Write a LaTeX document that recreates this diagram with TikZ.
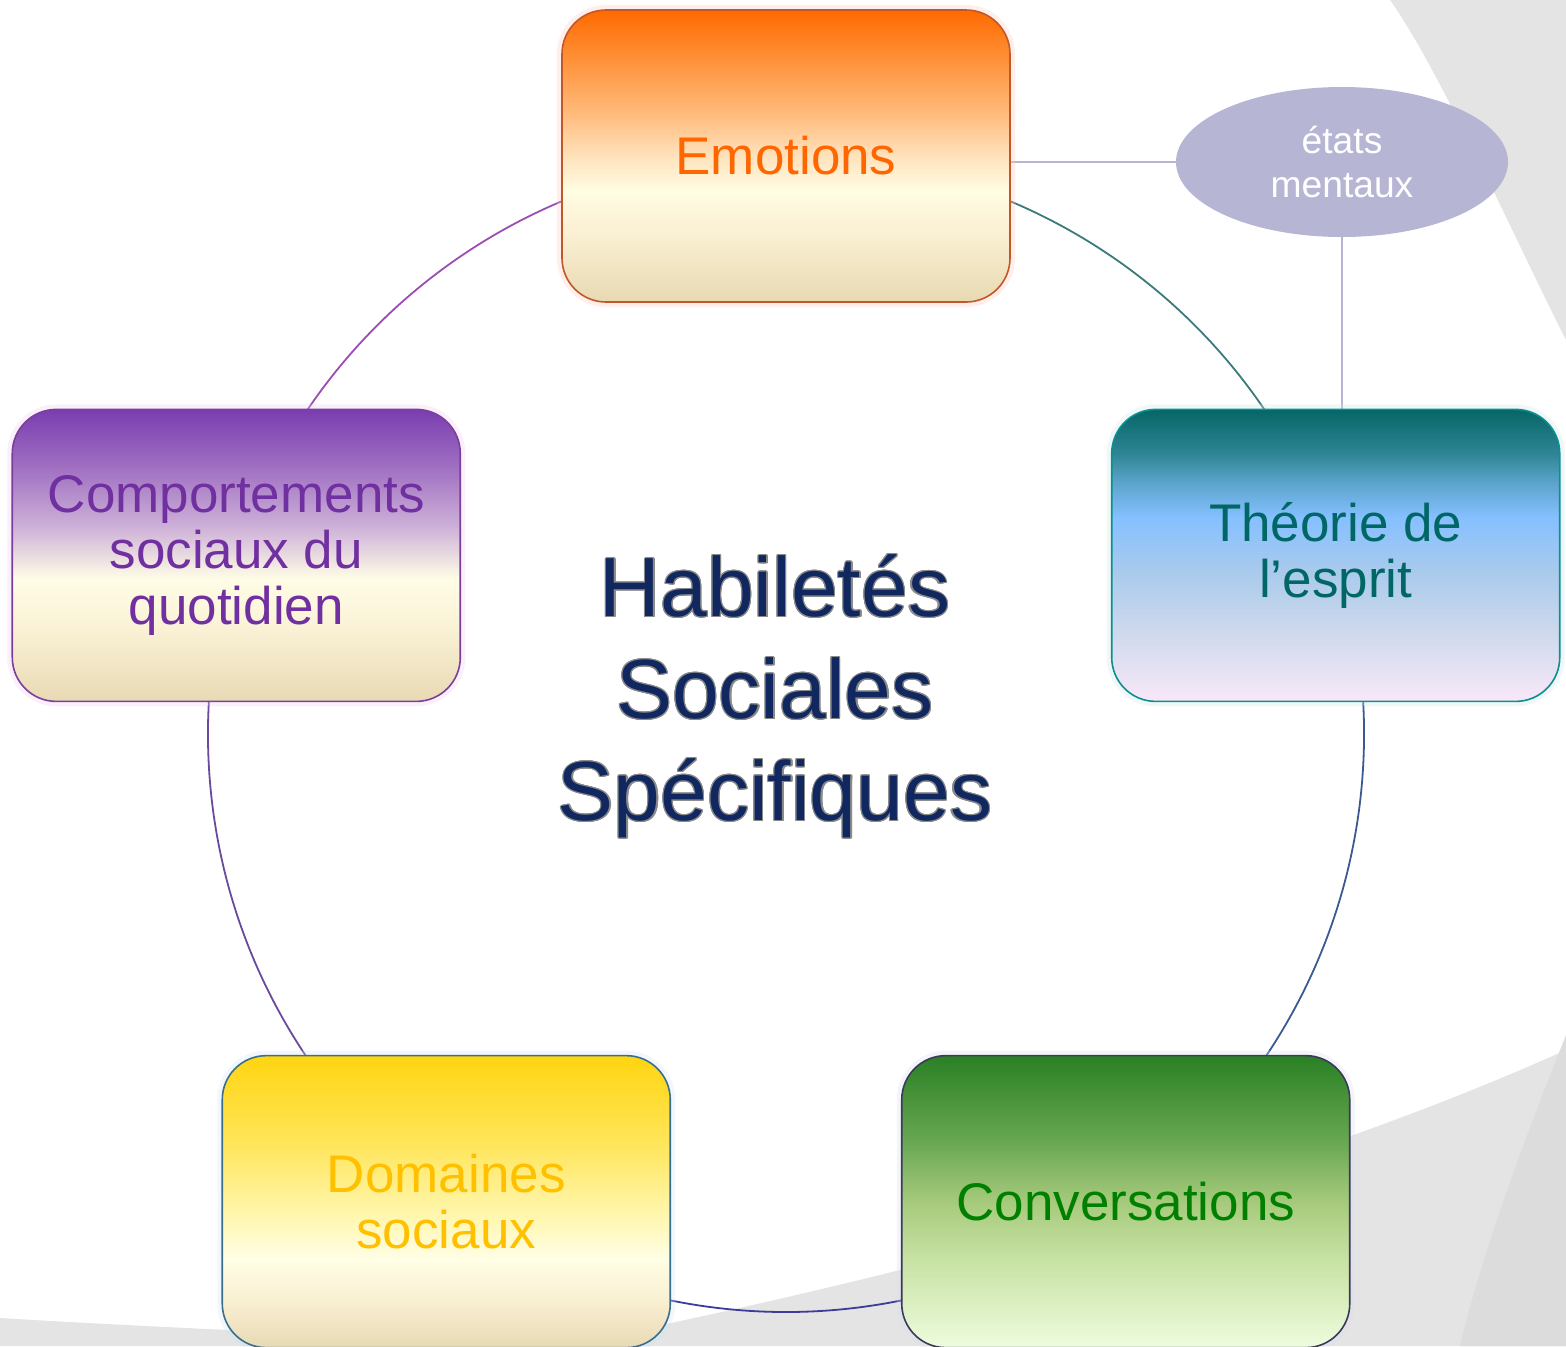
\documentclass[tikz,border=0pt]{standalone}
\usepackage{fontspec}
\setmainfont{Liberation Sans}
\usepackage{xcolor}
\usepackage{tikz}
\usepackage{contour}
\usetikzlibrary{shapes.geometric, calc}
\pgfdeclarelayer{background}
\pgfsetlayers{background,main}
\contourlength{0.6pt}

\definecolor{bggray}{HTML}{E4E4E4}
\definecolor{bgdark}{HTML}{DCDCDC}
\definecolor{etatsFill}{HTML}{B6B6D4}
\definecolor{hubText}{HTML}{10275F}
\definecolor{hubEdge}{HTML}{8A8A8A}
% Emotions
\definecolor{emoA}{HTML}{FF6A00}\definecolor{emoB}{HTML}{FF8C32}
\definecolor{emoC}{HTML}{FFBA7A}\definecolor{emoD}{HTML}{FFE2BC}
\definecolor{emoE}{HTML}{FFFDE3}\definecolor{emoF}{HTML}{FBF1D4}
\definecolor{emoG}{HTML}{E8D9B3}
\definecolor{emoText}{HTML}{FF6600}\definecolor{emoEdge}{HTML}{C0582A}
\definecolor{emoGlow}{HTML}{FFC8B8}
% Comportements
\definecolor{compA}{HTML}{7A3DB0}\definecolor{compB}{HTML}{A070C2}
\definecolor{compC}{HTML}{CDB0D8}\definecolor{compD}{HTML}{FFFDE6}
\definecolor{compE}{HTML}{FAF2D6}\definecolor{compF}{HTML}{E8D9B3}
\definecolor{compText}{HTML}{7030A0}\definecolor{compEdge}{HTML}{7B3F9B}
\definecolor{compGlow}{HTML}{ECCCF4}
% Theorie
\definecolor{theoA}{HTML}{066666}\definecolor{theoB}{HTML}{2E8494}
\definecolor{theoC}{HTML}{5BA4CC}\definecolor{theoD}{HTML}{85C0FF}
\definecolor{theoE}{HTML}{A8CAEC}\definecolor{theoF}{HTML}{CCD8EC}
\definecolor{theoG}{HTML}{F8E8F8}
\definecolor{theoText}{HTML}{006666}\definecolor{theoEdge}{HTML}{0A9090}
\definecolor{theoGlow}{HTML}{CCE6E6}
% Domaines
\definecolor{domA}{HTML}{FFD510}\definecolor{domB}{HTML}{FFE55A}
\definecolor{domC}{HTML}{FFF7B0}\definecolor{domD}{HTML}{FFFEE6}
\definecolor{domE}{HTML}{F8EED0}\definecolor{domF}{HTML}{E8D9B3}
\definecolor{domText}{HTML}{FFC000}\definecolor{domEdge}{HTML}{3A6E8F}
\definecolor{domGlow}{HTML}{CFE4F4}
% Conversations
\definecolor{convA}{HTML}{2A8024}\definecolor{convB}{HTML}{6AA854}
\definecolor{convC}{HTML}{A6CA7C}\definecolor{convD}{HTML}{C8E2A4}
\definecolor{convE}{HTML}{EEFCDE}
\definecolor{convText}{HTML}{008000}\definecolor{convEdge}{HTML}{3A3A5A}
\definecolor{convGlow}{HTML}{DCDCF2}
% ring colours
\definecolor{ringPurple}{HTML}{9B4DB4}
\definecolor{ringViolet}{HTML}{6A4A9C}
\definecolor{ringIndigo}{HTML}{3C3C9A}
\definecolor{ringSteel}{HTML}{3A5A90}
\definecolor{ringTeal}{HTML}{3A7A7A}

% vertical shadings: 25bp = bottom of box, 75bp = top of box
\pgfdeclareverticalshading{emoshade}{100bp}{color(0bp)=(emoG); color(25bp)=(emoG);
  color(37.5bp)=(emoF); color(44bp)=(emoE); color(50bp)=(emoD); color(57.5bp)=(emoC);
  color(67.5bp)=(emoB); color(75bp)=(emoA); color(100bp)=(emoA)}
\pgfdeclareverticalshading{compshade}{100bp}{color(0bp)=(compF); color(25bp)=(compF);
  color(37.5bp)=(compE); color(46bp)=(compD); color(55bp)=(compC); color(65bp)=(compB);
  color(75bp)=(compA); color(100bp)=(compA)}
\pgfdeclareverticalshading{theoshade}{100bp}{color(0bp)=(theoG); color(25bp)=(theoG);
  color(37.5bp)=(theoF); color(47.5bp)=(theoE); color(56.5bp)=(theoD); color(62.5bp)=(theoC);
  color(67.5bp)=(theoB); color(75bp)=(theoA); color(100bp)=(theoA)}
\pgfdeclareverticalshading{domshade}{100bp}{color(0bp)=(domF); color(25bp)=(domF);
  color(32.5bp)=(domE); color(40bp)=(domD); color(47.5bp)=(domC); color(60bp)=(domB);
  color(75bp)=(domA); color(100bp)=(domA)}
\pgfdeclareverticalshading{convshade}{100bp}{color(0bp)=(convE); color(25bp)=(convE);
  color(40bp)=(convD); color(50bp)=(convC); color(60bp)=(convB);
  color(75bp)=(convA); color(100bp)=(convA)}

\newcommand{\hubline}[1]{\contour{hubEdge}{#1}}

\begin{document}
\begin{tikzpicture}[x=0.5pt, y=-0.5pt,
  box/.style={rectangle, rounded corners=22pt, minimum width=224pt, minimum height=146pt,
    inner sep=0pt, align=center, line width=0.8pt, font=\fontsize{26.5}{28}\selectfont},
  glow/.style={preaction={draw=#1, line width=5pt, opacity=0.3}},
  ring/.style={line width=0.9pt},
  link/.style={draw=etatsFill, line width=0.9pt}]
  \useasboundingbox (0,0) rectangle (1566,1346);
  % hub of the cycle, radius 578 px
  \coordinate (hub) at (786,734);

  % Boxes on the ring
  \node[box, shading=emoshade, draw=emoEdge, text=emoText, glow=emoGlow]
    (emo) at ($(hub)+(270:578)$) {Emotions};
  \node[box, shading=compshade, draw=compEdge, text=compText, glow=compGlow]
    (comp) at ($(hub)+(198:578)$) {Comportements\\sociaux du\\quotidien};
  \node[box, shading=domshade, draw=domEdge, text=domText, glow=domGlow]
    (dom) at ($(hub)+(126:578)$) {Domaines\\sociaux};
  \node[box, shading=convshade, draw=convEdge, text=convText, glow=convGlow]
    (conv) at ($(hub)+(54:578)$) {Conversations};
  \node[box, shading=theoshade, draw=theoEdge, text=theoText, glow=theoGlow]
    (theo) at ($(hub)+(-18:578)$) {Théorie de\\l’esprit};

  % Side bubble
  \node[ellipse, fill=etatsFill, minimum width=166pt, minimum height=75pt, inner sep=0pt,
    text=white, align=center, font=\fontsize{18.6}{22}\selectfont]
    (etats) at (1342,162) {états\\mentaux};

  % Title in the middle
  \node[text=hubText, align=center, font=\fontsize{42}{51}\selectfont]
    (title) at (775,697) {\hubline{Habiletés}\\\hubline{Sociales}\\\hubline{Spécifiques}};

  \begin{pgfonlayer}{background}
    % theme swooshes
    \fill[bggray] (1390,0) .. controls (1440,70) and (1520,250) .. (1566,340) -- (1566,0) -- cycle;
    \fill[bggray] (560,1346) .. controls (850,1288) and (1250,1192) .. (1566,1050) -- (1566,1346) -- cycle;
    \fill[bgdark] (1566,1035) .. controls (1520,1150) and (1480,1260) .. (1460,1346) -- (1566,1346) -- cycle;
    \fill[bggray] (0,1318) .. controls (200,1330) and (450,1340) .. (650,1346) -- (0,1346) -- cycle;
    % the ring, one arc per pair of boxes
    \foreach \n/\s/\e/\c in {emo/270/198/ringPurple, comp/198/126/ringViolet,
        dom/126/54/ringIndigo, conv/54/-18/ringSteel, theo/342/270/ringTeal}
      \draw[ring, \c] (\n.center) arc[start angle=\s, end angle=\e, radius=578];
    % bubble links
    \draw[link] (etats.west -| emo.east) -- (etats.west);
    \draw[link] (etats.south) -- (etats.south |- theo.north);
  \end{pgfonlayer}
\end{tikzpicture}
\end{document}
